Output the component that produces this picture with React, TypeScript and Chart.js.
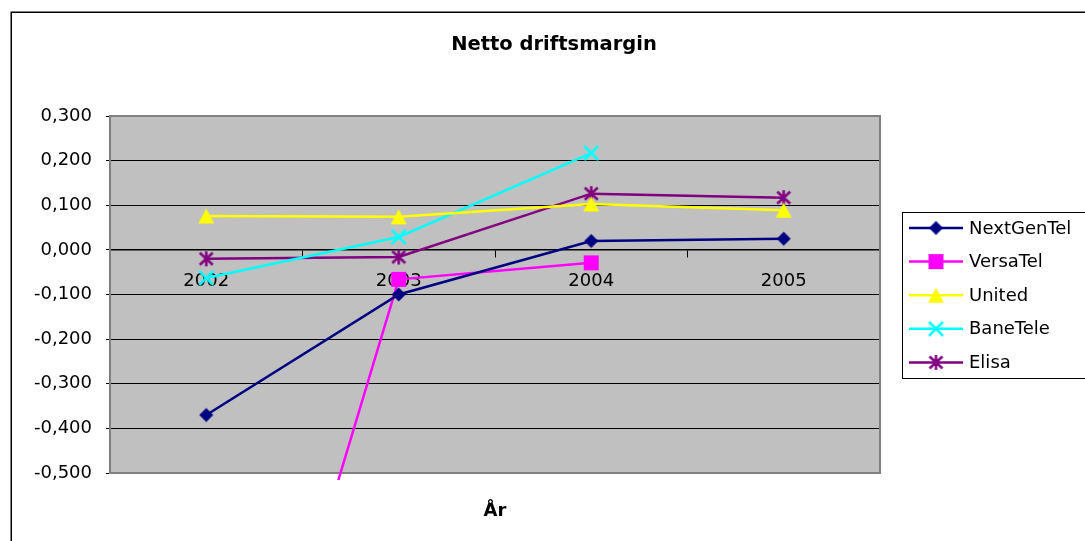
import React, { useEffect, useRef } from 'react';
import { Chart, registerables } from 'chart.js';

Chart.register(...registerables);

// ---- data ----
const years = ['2002', '2003', '2004', '2005'];
const seriesNames = ['NextGenTel', 'VersaTel', 'United', 'BaneTele', 'Elisa'];
const nextGenTel = [-0.370, -0.100, 0.020, 0.025];
const versaTel = [-1.50, -0.066, -0.029, null];
const united = [0.076, 0.074, 0.103, 0.089];
const baneTele = [-0.063, 0.029, 0.217, null];
const elisa = [-0.020, -0.016, 0.126, 0.117];
const yMin = -0.5;
const yMax = 0.3;
const yStep = 0.1;
const chartTitle = 'Netto driftsmargin';
const xAxisTitle = 'År';

// ---- styles ----
const colors = ['#000080', '#FF00FF', '#FFFF00', '#00FFFF', '#800080'];
const markerKinds = ['diamond', 'square', 'triangle', 'x', 'star'];
const FONT = '"DejaVu Sans", "Liberation Sans", Arial, sans-serif';

function makeMarker(kind: string, color: string): HTMLCanvasElement {
  const c = document.createElement('canvas');
  c.width = 17;
  c.height = 17;
  const ctx = c.getContext('2d')!;
  ctx.fillStyle = color;
  ctx.strokeStyle = color;
  ctx.lineWidth = 2.5;
  ctx.lineCap = 'butt';
  ctx.beginPath();
  switch (kind) {
    case 'diamond':
      ctx.moveTo(8.5, 1.5);
      ctx.lineTo(15.5, 8.5);
      ctx.lineTo(8.5, 15.5);
      ctx.lineTo(1.5, 8.5);
      ctx.closePath();
      ctx.fill();
      break;
    case 'square':
      ctx.fillRect(1, 1, 15, 15);
      break;
    case 'triangle':
      ctx.moveTo(8.5, 1);
      ctx.lineTo(16.5, 16);
      ctx.lineTo(0.5, 16);
      ctx.closePath();
      ctx.fill();
      break;
    case 'x':
      ctx.moveTo(1.5, 1.5);
      ctx.lineTo(15.5, 15.5);
      ctx.moveTo(15.5, 1.5);
      ctx.lineTo(1.5, 15.5);
      ctx.stroke();
      break;
    case 'star':
      ctx.moveTo(8.5, 1);
      ctx.lineTo(8.5, 16);
      ctx.moveTo(2, 2.5);
      ctx.lineTo(15, 14.5);
      ctx.moveTo(15, 2.5);
      ctx.lineTo(2, 14.5);
      ctx.stroke();
      break;
  }
  return c;
}

function fmt(v: number): string {
  if (Math.abs(v) < 1e-9) return '0,000';
  return v.toFixed(3).replace('.', ',');
}

export default function App() {
  const ref = useRef<HTMLCanvasElement>(null);

  useEffect(() => {
    if (!ref.current) return;
    const seriesValues = [nextGenTel, versaTel, united, baneTele, elisa];
    const markers = markerKinds.map((k, i) => makeMarker(k, colors[i]));

    const decor = {
      id: 'decor',
      beforeDraw(chart: any) {
        const { ctx, chartArea } = chart;
        ctx.save();
        ctx.fillStyle = '#FFFFFF';
        ctx.fillRect(0, 0, chart.width, chart.height);
        ctx.strokeStyle = '#000000';
        ctx.lineWidth = 1.5;
        ctx.strokeRect(11.25, 12.25, 1300, 700);
        ctx.fillStyle = '#C0C0C0';
        ctx.fillRect(chartArea.left, chartArea.top, chartArea.right - chartArea.left, chartArea.bottom - chartArea.top);
        ctx.restore();
      },
      beforeDatasetsDraw(chart: any) {
        const { ctx, chartArea } = chart;
        ctx.save();
        ctx.strokeStyle = '#808080';
        ctx.lineWidth = 2;
        ctx.strokeRect(chartArea.left, chartArea.top, chartArea.right - chartArea.left, chartArea.bottom - chartArea.top);
        ctx.restore();
      },
      afterDraw(chart: any) {
        const { ctx, chartArea } = chart;
        ctx.save();
        ctx.fillStyle = '#000';
        ctx.textAlign = 'center';
        ctx.textBaseline = 'middle';
        ctx.font = `bold 19.5px ${FONT}`;
        ctx.fillText(chartTitle, 554, 45);
        ctx.font = `bold 18px ${FONT}`;
        ctx.fillText(xAxisTitle, (chartArea.left + chartArea.right) / 2, 511);

        // legend
        ctx.strokeStyle = '#000';
        ctx.lineWidth = 1;
        ctx.strokeRect(902.5, 212.5, 300, 166);
        ctx.font = `18px ${FONT}`;
        ctx.textAlign = 'left';
        chart.data.datasets.forEach((ds: any, i: number) => {
          const y = 228 + i * 33.6;
          ctx.strokeStyle = ds.borderColor;
          ctx.lineWidth = 2.5;
          ctx.beginPath();
          ctx.moveTo(909, y);
          ctx.lineTo(963, y);
          ctx.stroke();
          const m = markers[i];
          ctx.drawImage(m, 936 - m.width / 2, y - m.height / 2);
          ctx.fillStyle = '#000';
          ctx.fillText(ds.label, 969, y + 1);
        });
        ctx.restore();
      },
    };

    const chart = new Chart(ref.current, {
      type: 'line',
      data: {
        labels: years,
        datasets: seriesNames.map((name, i) => ({
          label: name,
          data: seriesValues[i],
          borderColor: colors[i],
          backgroundColor: colors[i],
          borderWidth: 2.5,
          tension: 0,
          pointStyle: markers[i],
          pointRadius: 8,
          pointHoverRadius: 8,
          clip: { left: 10, top: 10, right: 10, bottom: 7 },
        })),
      },
      options: {
        responsive: false,
        animation: false,
        events: [],
        layout: { padding: { left: 0, top: 116, right: 205, bottom: 68 } },
        plugins: {
          legend: { display: false },
          title: { display: false },
          tooltip: { enabled: false },
        },
        scales: {
          x: {
            type: 'category',
            position: { y: 0 } as any,
            offset: true,
            grid: {
              offset: true,
              drawOnChartArea: false,
              drawTicks: true,
              tickLength: 7,
              color: '#000',
              tickColor: '#000',
            },
            border: { display: true, color: '#000', width: 1.5 },
            ticks: {
              padding: 14,
              color: '#000',
              font: { family: FONT, size: 18 },
              maxRotation: 0,
              autoSkip: false,
            },
          },
          y: {
            type: 'linear',
            min: yMin,
            max: yMax,
            afterFit(scale: any) {
              scale.width = 110;
            },
            grid: {
              color: '#000',
              lineWidth: 1,
              drawTicks: true,
              tickLength: 4,
              tickColor: '#000',
            },
            border: { display: false },
            ticks: {
              stepSize: yStep,
              padding: 14,
              color: '#000',
              font: { family: FONT, size: 18 },
              callback: (v: any) => fmt(Number(v)),
            },
          },
        },
      },
      plugins: [decor],
    });
    return () => chart.destroy();
  }, []);

  return (
    <div style={{ position: 'fixed', left: 0, top: 0, width: 1085, height: 541, background: '#fff' }}>
      <canvas ref={ref} width={1085} height={541} style={{ display: 'block' }} />
    </div>
  );
}
